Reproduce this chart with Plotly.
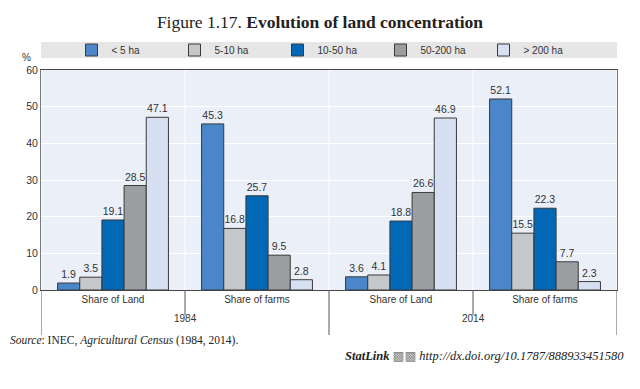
import plotly.graph_objects as go

categories = ["Share of Land", "Share of farms", "Share of Land", "Share of farms"]
years = ["1984", "2014"]
series_names = ["< 5 ha", "5-10 ha", "10-50 ha", "50-200 ha", "> 200 ha"]
lt5 = [1.9, 45.3, 3.6, 52.1]
s5_10 = [3.5, 16.8, 4.1, 15.5]
s10_50 = [19.1, 25.7, 18.8, 22.3]
s50_200 = [28.5, 9.5, 26.6, 7.7]
gt200 = [47.1, 2.8, 46.9, 2.3]
y_ticks = [0, 10, 20, 30, 40, 50, 60]

series = [lt5, s5_10, s10_50, s50_200, gt200]
colors = ["#4a86c8", "#c6c7c9", "#0068b5", "#9d9ea2", "#d6e0f2"]

FONT = "Liberation Sans Narrow, Arial Narrow, Liberation Sans, sans-serif"
SERIF = "Liberation Serif, DejaVu Serif, serif"

xpos = list(range(len(categories)))

fig = go.Figure()
for name, vals, col in zip(series_names, series, colors):
    fig.add_trace(go.Bar(
        x=xpos, y=vals, name=name,
        marker=dict(color=col, line=dict(color="#3a3a3a", width=1)),
        text=[f"{v:.1f}" for v in vals], textposition="outside",
        textfont=dict(family=FONT, size=10.5, color="#333333"),
        cliponaxis=False,
    ))

shapes = []
# gray legend band
shapes.append(dict(type="rect", xref="paper", yref="paper", x0=0, x1=1,
                   y0=1 + 12 / 220, y1=1 + 28 / 220, fillcolor="#e6e6e6",
                   line=dict(width=0), layer="below"))
bounds = [-0.5, 0.5, 1.5, 2.5, 3.5]
for i, b in enumerate(bounds):
    shapes.append(dict(type="line", xref="x", yref="paper", x0=b, x1=b, y0=0, y1=1,
                       line=dict(color="white", width=1), layer="below"))
    outer = i % 2 == 0
    shapes.append(dict(type="line", xref="x", yref="paper", x0=b, x1=b, y0=0,
                       y1=-(45 / 220 if outer else 25 / 220),
                       line=dict(color="#555555", width=1)))

annotations = []
for j, yr in enumerate(years):
    annotations.append(dict(text=yr, xref="x", yref="paper", x=2 * j + 0.5,
                            y=-28 / 220, showarrow=False, yanchor="middle",
                            font=dict(family=FONT, size=10, color="#333333")))
annotations.append(dict(text="%", xref="paper", yref="paper", x=-8 / 576, y=1 + 13 / 220,
                        xanchor="right", yanchor="middle", showarrow=False,
                        font=dict(family=FONT, size=10, color="#333333")))
annotations.append(dict(text="<i>Source</i>: INEC, <i>Agricultural Census</i> (1984, 2014).",
                        xref="paper", yref="paper", x=-33 / 576, y=-50 / 220,
                        xanchor="left", yanchor="middle", showarrow=False,
                        font=dict(family=SERIF, size=11.5, color="#222222")))
annotations.append(dict(text="<b><i>StatLink</i></b> <span style='color:#888'>&#9641;&#9641;</span> <i>http://dx.doi.org/10.1787/888933451580</i>",
                        xref="paper", yref="paper", x=1 + 9 / 576, y=-66 / 220,
                        xanchor="right", yanchor="middle", showarrow=False,
                        font=dict(family=SERIF, size=12.5, color="#222222")))

fig.update_layout(
    width=624, height=373,
    margin=dict(l=33, r=15, t=62, b=91, autoexpand=False),
    paper_bgcolor="white", plot_bgcolor="#eaeff8",
    barmode="group", bargap=0.23, bargroupgap=0,
    title=dict(text="Figure 1.17. <b>Evolution of land concentration</b>",
               x=0.5, xref="container", xanchor="center",
               y=1 - 14 / 373, yanchor="middle",
               font=dict(family=SERIF, size=17.5, color="#222222")),
    legend=dict(orientation="h", x=0.5, xanchor="center", y=1 + 20 / 220, yanchor="middle",
                bgcolor="rgba(0,0,0,0)", font=dict(family=FONT, size=10, color="#333333"),
                entrywidth=58, entrywidthmode="pixels", traceorder="normal"),
    shapes=shapes, annotations=annotations,
    xaxis=dict(range=[-0.5, 3.5], tickvals=xpos, ticktext=categories, showgrid=False,
               zeroline=False, showline=True, linecolor="#444444", mirror=True,
               ticks="", tickfont=dict(family=FONT, size=10, color="#333333")),
    yaxis=dict(range=[0, 60], tickvals=y_ticks, showgrid=True, gridcolor="white",
               zeroline=False, showline=True, linecolor="#777777", mirror=True,
               ticks="", tickfont=dict(family=FONT, size=10.5, color="#333333")),
)

fig.write_html("out.html")
